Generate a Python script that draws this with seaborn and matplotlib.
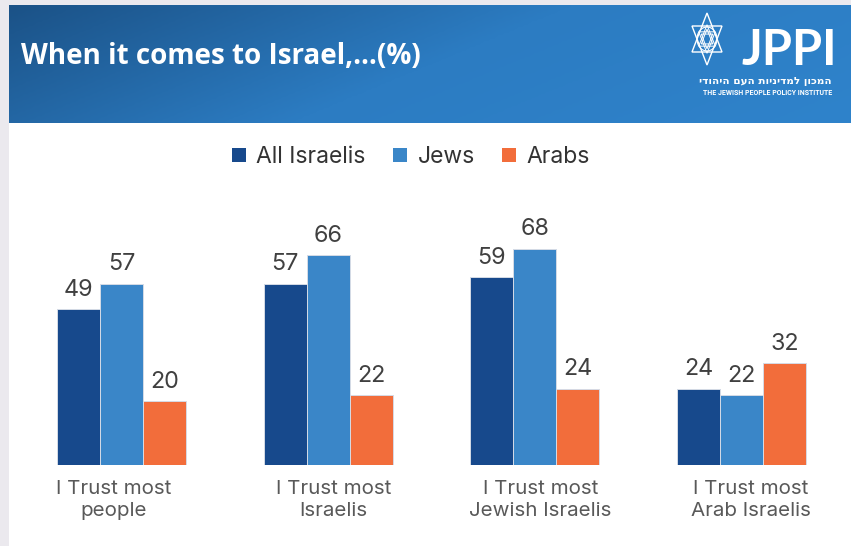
import numpy as np
import pandas as pd
import matplotlib
matplotlib.use("Agg")
import matplotlib.pyplot as plt
import matplotlib.transforms as mtransforms
from matplotlib.colors import LinearSegmentedColormap
from matplotlib.patches import Rectangle, Polygon, Ellipse
import seaborn as sns

# ---- data -------------------------------------------------------------
categories = [
    "I Trust most\npeople",
    "I Trust most\nIsraelis",
    "I Trust most\nJewish Israelis",
    "I Trust most\nArab Israelis",
]
series_names = ["All Israelis", "Jews", "Arabs"]
all_israelis = [49, 57, 59, 24]
jews = [57, 66, 68, 22]
arabs = [20, 22, 24, 32]

title_text = "When it comes to Israel,\u2026(%)"
logo_text = "JPPI"
logo_hebrew = "המכון למדיניות העם היהודי"
logo_english = "THE JEWISH PEOPLE POLICY INSTITUTE"

# ---- styling ----------------------------------------------------------
colors = ["#17498c", "#3a86c8", "#f26d3b"]
W, H = 851, 546

sns.set_theme(style="white")
plt.rcParams["font.family"] = ["Inter", "DejaVu Sans"]

df = pd.DataFrame({
    "category": np.repeat(categories, 3),
    "group": series_names * len(categories),
    "value": np.ravel(np.column_stack([all_israelis, jews, arabs])),
})

fig = plt.figure(figsize=(W / 100, H / 100), dpi=100, facecolor="white")

# decoration layer in pixel coordinates (origin top-left)
deco = fig.add_axes([0, 0, 1, 1], zorder=0)
deco.set_xlim(0, W)
deco.set_ylim(H, 0)
deco.axis("off")

# light frame strips
deco.add_patch(Rectangle((0, 0), W, 5, color="#ebe9ee", lw=0))
deco.add_patch(Rectangle((0, 0), 9, H, color="#ebe9ee", lw=0))

# header band with diagonal gradient
gx, gy = np.meshgrid(np.linspace(0, 1, 300), np.linspace(0, 1, 60))
grad = 0.75 * gx + 0.25 * gy
cmap = LinearSegmentedColormap.from_list("hdr", ["#1b5287", "#2c7cc2", "#2f83cb"])
deco.imshow(grad, extent=(9, W, 123, 5), cmap=cmap, aspect="auto",
            interpolation="bilinear", zorder=1)

deco.text(21, 56, title_text, color="white", fontsize=20, fontweight="bold",
          family=["Open Sans", "DejaVu Sans"], va="center", ha="left", zorder=3)

# logo: hexagram
cx, cy, hh, hw = 707, 39, 26, 15
up = [(cx, cy - hh), (cx - hw, cy + hh / 2), (cx + hw, cy + hh / 2)]
down = [(cx, cy + hh), (cx - hw, cy - hh / 2), (cx + hw, cy - hh / 2)]
for tri in (up, down):
    deco.add_patch(Polygon(tri, closed=True, fill=False, ec="white", lw=1.0, zorder=3))
for s in (0.55, 0.38):
    for tri in (up, down):
        pts = [(cx + (x - cx) * s, cy + (y - cy) * s) for x, y in tri]
        deco.add_patch(Polygon(pts, closed=True, fill=False, ec="white", lw=0.7, zorder=3))
deco.add_patch(Ellipse((cx, cy), 20, 24, fill=False, ec="white", lw=0.8, zorder=3))

deco.text(741, 65, logo_text, color="white", fontsize=35, fontweight="bold",
          family=["Lato", "DejaVu Sans"], va="baseline", ha="left", zorder=3)
deco.text(832, 81, logo_hebrew[::-1], color="white", fontsize=7.5, fontweight="bold",
          family=["DejaVu Sans"], va="center", ha="right", zorder=3)
deco.text(832, 93, logo_english, color="white", fontsize=5.0, fontweight="bold",
          family=["Roboto", "DejaVu Sans"], va="center", ha="right", zorder=3)

# ---- bar chart --------------------------------------------------------
left_px, right_px = 18.15, 845.0
base_px, unit_px, ymax = 465, 3.18, 80
ax = fig.add_axes([left_px / W, (H - base_px) / H,
                   (right_px - left_px) / W, ymax * unit_px / H], zorder=2)
ax.patch.set_alpha(0)

sns.barplot(data=df, x="category", y="value", hue="group", hue_order=series_names,
            palette=colors, saturation=1, width=0.624, errorbar=None,
            edgecolor="#d5dbe6", linewidth=0.7, ax=ax)

ax.set_xlim(-0.5, 3.5)
ax.set_ylim(0, ymax)
ax.set_yticks([])
ax.set_xlabel("")
ax.set_ylabel("")
for sp in ax.spines.values():
    sp.set_visible(False)

for cont in ax.containers:
    ax.bar_label(cont, padding=6, fontsize=16.8, color="#404040")

ax.tick_params(axis="x", length=0, pad=11, labelsize=14.8, labelcolor="#595959")
label_shift_px = [-7.5, 5.5, 5.5, 9.5]
for lbl, dx in zip(ax.get_xticklabels(), label_shift_px):
    lbl.set_linespacing(1.3)
    lbl.set_transform(lbl.get_transform() +
                      mtransforms.ScaledTranslation(dx / 100, 0, fig.dpi_scale_trans))

sns.move_legend(ax, "center", bbox_to_anchor=(411 / W, 1 - 157 / H),
                bbox_transform=fig.transFigure, ncol=3, frameon=False, title=None,
                fontsize=16.5, handlelength=0.6, handleheight=0.6,
                handletextpad=0.45, columnspacing=1.2)
for t in ax.get_legend().get_texts():
    t.set_color("#333333")
for h in ax.get_legend().legend_handles:
    h.set_edgecolor("none")

fig.savefig("out.png", dpi=100, facecolor=fig.get_facecolor())
